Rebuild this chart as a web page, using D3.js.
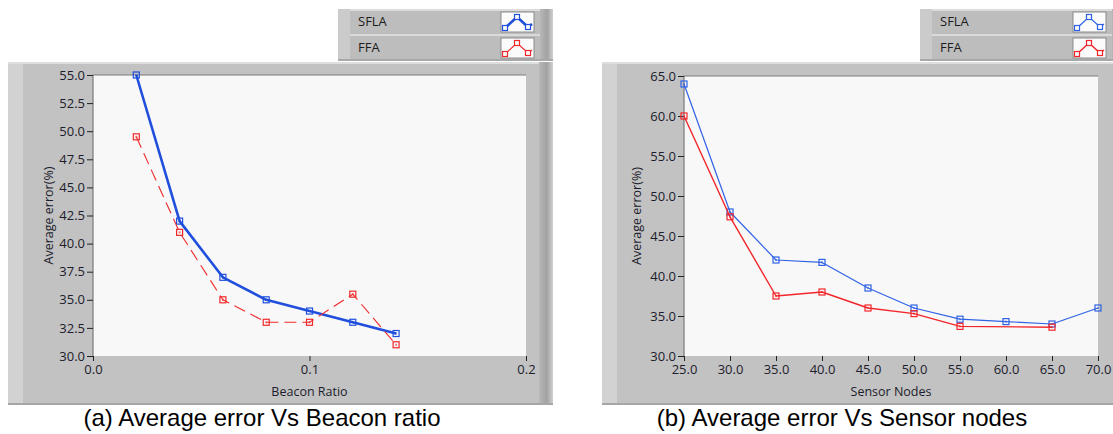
<!DOCTYPE html>
<html>
<head>
<meta charset="utf-8">
<script src="https://cdn.jsdelivr.net/npm/d3@7"></script>
<style>
  body { margin: 0; background: #fff; }
  svg { display: block; }
  .tick text { font-family: "Open Sans", sans-serif; font-size: 13px; fill: #1c1c2c; }
  .tick line { stroke: #222; }
</style>
</head>
<body>
<svg id="fig" width="1113" height="434"></svg>
<script>
// (a) Average error vs beacon ratio
var beaconRatio = [0.02, 0.04, 0.06, 0.08, 0.10, 0.12, 0.14];
var beaconSFLA = [55, 42, 37, 35, 34, 33, 32];
var beaconFFA = [49.5, 41, 35, 33, 33, 35.5, 31];
var beaconXTicks = [0, 0.1, 0.2];
var beaconYTicks = [30, 32.5, 35, 37.5, 40, 42.5, 45, 47.5, 50, 52.5, 55];

// (b) Average error vs sensor nodes
var nodesSFLAx = [25, 30, 35, 40, 45, 50, 55, 60, 65, 70];
var nodesSFLA = [64, 48, 42, 41.7, 38.5, 36, 34.6, 34.3, 34, 36];
var nodesFFAx = [25, 30, 35, 40, 45, 50, 55, 65];
var nodesFFA = [60, 47.4, 37.5, 38, 36, 35.3, 33.7, 33.6];
var nodesXTicks = [25, 30, 35, 40, 45, 50, 55, 60, 65, 70];
var nodesYTicks = [30, 35, 40, 45, 50, 55, 60, 65];

var seriesNames = ["SFLA", "FFA"];

var svg = d3.select("#fig");
var defs = svg.append("defs");

var grad = defs.append("linearGradient").attr("id", "edge-shade")
  .attr("x1", 0).attr("x2", 1).attr("y1", 0).attr("y2", 0);
grad.append("stop").attr("offset", "0%").attr("stop-color", "#b8b8b8");
grad.append("stop").attr("offset", "55%").attr("stop-color", "#a2a2a2");
grad.append("stop").attr("offset", "100%").attr("stop-color", "#d0d0d0");

function drawLegend(g, box, styles) {
  g.append("rect")
    .attr("x", box.x).attr("y", box.y)
    .attr("width", box.w).attr("height", box.h)
    .attr("fill", "#bdbdbd");
  g.append("rect")
    .attr("x", box.x).attr("y", box.y)
    .attr("width", box.w).attr("height", 2)
    .attr("fill", "#dcdcdc");
  g.append("rect")
    .attr("x", box.x).attr("y", box.y)
    .attr("width", 12).attr("height", box.h)
    .attr("fill", "#cbcbcb");
  g.append("rect")
    .attr("x", box.x + box.w - box.edge).attr("y", box.y)
    .attr("width", box.edge).attr("height", box.h)
    .attr("fill", "url(#edge-shade)");
  g.append("line")
    .attr("x1", box.x + 12).attr("x2", box.x + box.w - box.edge)
    .attr("y1", box.y + box.h / 2).attr("y2", box.y + box.h / 2)
    .attr("stroke", "#e4e4e4").attr("stroke-width", 1.5);
  g.append("rect")
    .attr("x", box.x).attr("y", box.y + box.h - 2)
    .attr("width", box.w).attr("height", 2)
    .attr("fill", "#a8a8a8");

  seriesNames.forEach(function(name, i) {
    var rowY = box.y + 3 + i * 26;
    g.append("text")
      .attr("x", box.x + 20).attr("y", rowY + 11)
      .attr("dominant-baseline", "middle")
      .attr("font-family", "Open Sans, sans-serif")
      .attr("font-size", "13px")
      .attr("fill", "#1c1c1c")
      .text(name);
    var ix = box.iconX, iy = rowY;
    g.append("rect")
      .attr("x", ix).attr("y", iy)
      .attr("width", 33).attr("height", 20)
      .attr("fill", "#fbfbfb")
      .attr("stroke", "#8c8c8c").attr("stroke-width", 1);
    var st = styles[i];
    var pts = [[ix + 4, iy + 16], [ix + 16, iy + 5], [ix + 27, iy + 15], [ix + 31, iy + 12]];
    g.append("path")
      .attr("d", d3.line()(pts))
      .attr("fill", "none")
      .attr("stroke", st.color)
      .attr("stroke-width", st.width);
    pts.slice(0, 3).forEach(function(p) {
      g.append("rect")
        .attr("x", p[0] - 2.5).attr("y", p[1] - 2.5)
        .attr("width", 5).attr("height", 5)
        .attr("fill", "#fbfbfb")
        .attr("stroke", st.color).attr("stroke-width", 1.2);
    });
  });
}

function drawChart(cfg) {
  var g = svg.append("g");
  var p = cfg.panel, a = cfg.plot;

  // gray instrument panel
  g.append("rect")
    .attr("x", p.x).attr("y", p.y)
    .attr("width", p.w).attr("height", p.h)
    .attr("fill", "#c2c2c2");
  g.append("rect")
    .attr("x", p.x).attr("y", p.y)
    .attr("width", 15).attr("height", p.h)
    .attr("fill", "#d2d2d2");
  g.append("rect")
    .attr("x", p.x).attr("y", p.y)
    .attr("width", p.w).attr("height", 2)
    .attr("fill", "#dedede");
  g.append("rect")
    .attr("x", p.x + p.w - p.edge).attr("y", p.y)
    .attr("width", p.edge).attr("height", p.h)
    .attr("fill", "url(#edge-shade)");
  g.append("rect")
    .attr("x", p.x).attr("y", p.y + p.h - 2)
    .attr("width", p.w).attr("height", 2)
    .attr("fill", "#a6a6a6");

  drawLegend(g, cfg.legend, cfg.styles);

  var x = d3.scaleLinear().domain(cfg.xDomain).range([a.x, a.x + a.w]);
  var y = d3.scaleLinear().domain(cfg.yDomain).range([a.y + a.h, a.y]);

  g.append("rect")
    .attr("x", a.x).attr("y", a.y)
    .attr("width", a.w).attr("height", a.h)
    .attr("fill", "#f8f8f8");
  g.append("path")
    .attr("d", "M" + a.x + "," + (a.y + a.h) + "V" + a.y + "H" + (a.x + a.w))
    .attr("fill", "none")
    .attr("stroke", "#7a7a7a").attr("stroke-width", 1.2);

  var yAxis = d3.axisLeft(y)
    .tickValues(cfg.yTicks)
    .tickFormat(d3.format(".1f"))
    .tickSize(6).tickPadding(2);
  g.append("g")
    .attr("transform", "translate(" + a.x + ",0)")
    .call(yAxis)
    .call(function(s) { s.select(".domain").remove(); });

  var xAxis = d3.axisBottom(x)
    .tickValues(cfg.xTicks)
    .tickFormat(cfg.xFormat)
    .tickSize(5).tickPadding(4);
  g.append("g")
    .attr("transform", "translate(0," + (a.y + a.h) + ")")
    .call(xAxis)
    .call(function(s) { s.select(".domain").remove(); });

  g.append("text")
    .attr("transform", "translate(" + cfg.yTitleX + "," + (a.y + a.h / 2) + ") rotate(-90)")
    .attr("text-anchor", "middle")
    .attr("dominant-baseline", "middle")
    .attr("font-family", "Open Sans, sans-serif")
    .attr("font-size", "12.5px")
    .attr("fill", "#1c1c2c")
    .text("Average  error(%)");

  g.append("text")
    .attr("x", a.x + a.w / 2).attr("y", 393)
    .attr("text-anchor", "middle")
    .attr("dominant-baseline", "middle")
    .attr("font-family", "Open Sans, sans-serif")
    .attr("font-size", "12.5px")
    .attr("fill", "#1c1c2c")
    .text(cfg.xTitle);

  var line = d3.line()
    .x(function(d) { return x(d[0]); })
    .y(function(d) { return y(d[1]); });

  cfg.series.forEach(function(s, i) {
    var st = cfg.styles[i];
    var data = d3.zip(s.x, s.y);
    g.append("path")
      .datum(data)
      .attr("d", line)
      .attr("fill", "none")
      .attr("stroke", st.color)
      .attr("stroke-width", st.width)
      .attr("stroke-dasharray", st.dash || null)
      .attr("stroke-linejoin", "round");
    g.selectAll(null)
      .data(data)
      .enter()
      .append("rect")
      .attr("x", function(d) { return x(d[0]) - 3; })
      .attr("y", function(d) { return y(d[1]) - 3; })
      .attr("width", 6).attr("height", 6)
      .attr("fill", "none")
      .attr("stroke", st.color)
      .attr("stroke-width", 1.2);
    g.selectAll(null)
      .data(data)
      .enter()
      .append("rect")
      .attr("x", function(d) { return x(d[0]) - 1; })
      .attr("y", function(d) { return y(d[1]) - 1; })
      .attr("width", 2).attr("height", 2)
      .attr("fill", st.color)
      .attr("opacity", 0.6);
  });

  g.append("text")
    .attr("x", cfg.captionX).attr("y", 420)
    .attr("text-anchor", "middle")
    .attr("dominant-baseline", "middle")
    .attr("font-family", "Liberation Sans, Arial, sans-serif")
    .attr("font-size", "24px")
    .attr("fill", "#000")
    .text(cfg.caption);
}

drawChart({
  panel: { x: 8, y: 62, w: 545, h: 343, edge: 14 },
  plot: { x: 93, y: 75, w: 433, h: 281 },
  legend: { x: 338, y: 9, w: 215, h: 52, edge: 13, iconX: 501 },
  xDomain: [0, 0.2],
  yDomain: [30, 55],
  xTicks: beaconXTicks,
  yTicks: beaconYTicks,
  xFormat: d3.format(".1f"),
  yTitleX: 50,
  xTitle: "Beacon Ratio",
  captionX: 262,
  caption: "(a) Average error Vs Beacon ratio",
  series: [
    { x: beaconRatio, y: beaconSFLA },
    { x: beaconRatio, y: beaconFFA }
  ],
  styles: [
    { color: "#1f4fdc", width: 2.6 },
    { color: "#f0282a", width: 1.1, dash: "12,6" }
  ]
});

drawChart({
  panel: { x: 602, y: 62, w: 520, h: 343, edge: 6 },
  plot: { x: 684, y: 76, w: 414, h: 280 },
  legend: { x: 920, y: 9, w: 200, h: 52, edge: 8, iconX: 1073 },
  xDomain: [25, 70],
  yDomain: [30, 65],
  xTicks: nodesXTicks,
  yTicks: nodesYTicks,
  xFormat: d3.format(".1f"),
  yTitleX: 638,
  xTitle: "Sensor Nodes",
  captionX: 842,
  caption: "(b) Average error Vs Sensor nodes",
  series: [
    { x: nodesSFLAx, y: nodesSFLA },
    { x: nodesFFAx, y: nodesFFA }
  ],
  styles: [
    { color: "#2f62e6", width: 1.2 },
    { color: "#f2262a", width: 1.4 }
  ]
});
</script>
</body>
</html>
